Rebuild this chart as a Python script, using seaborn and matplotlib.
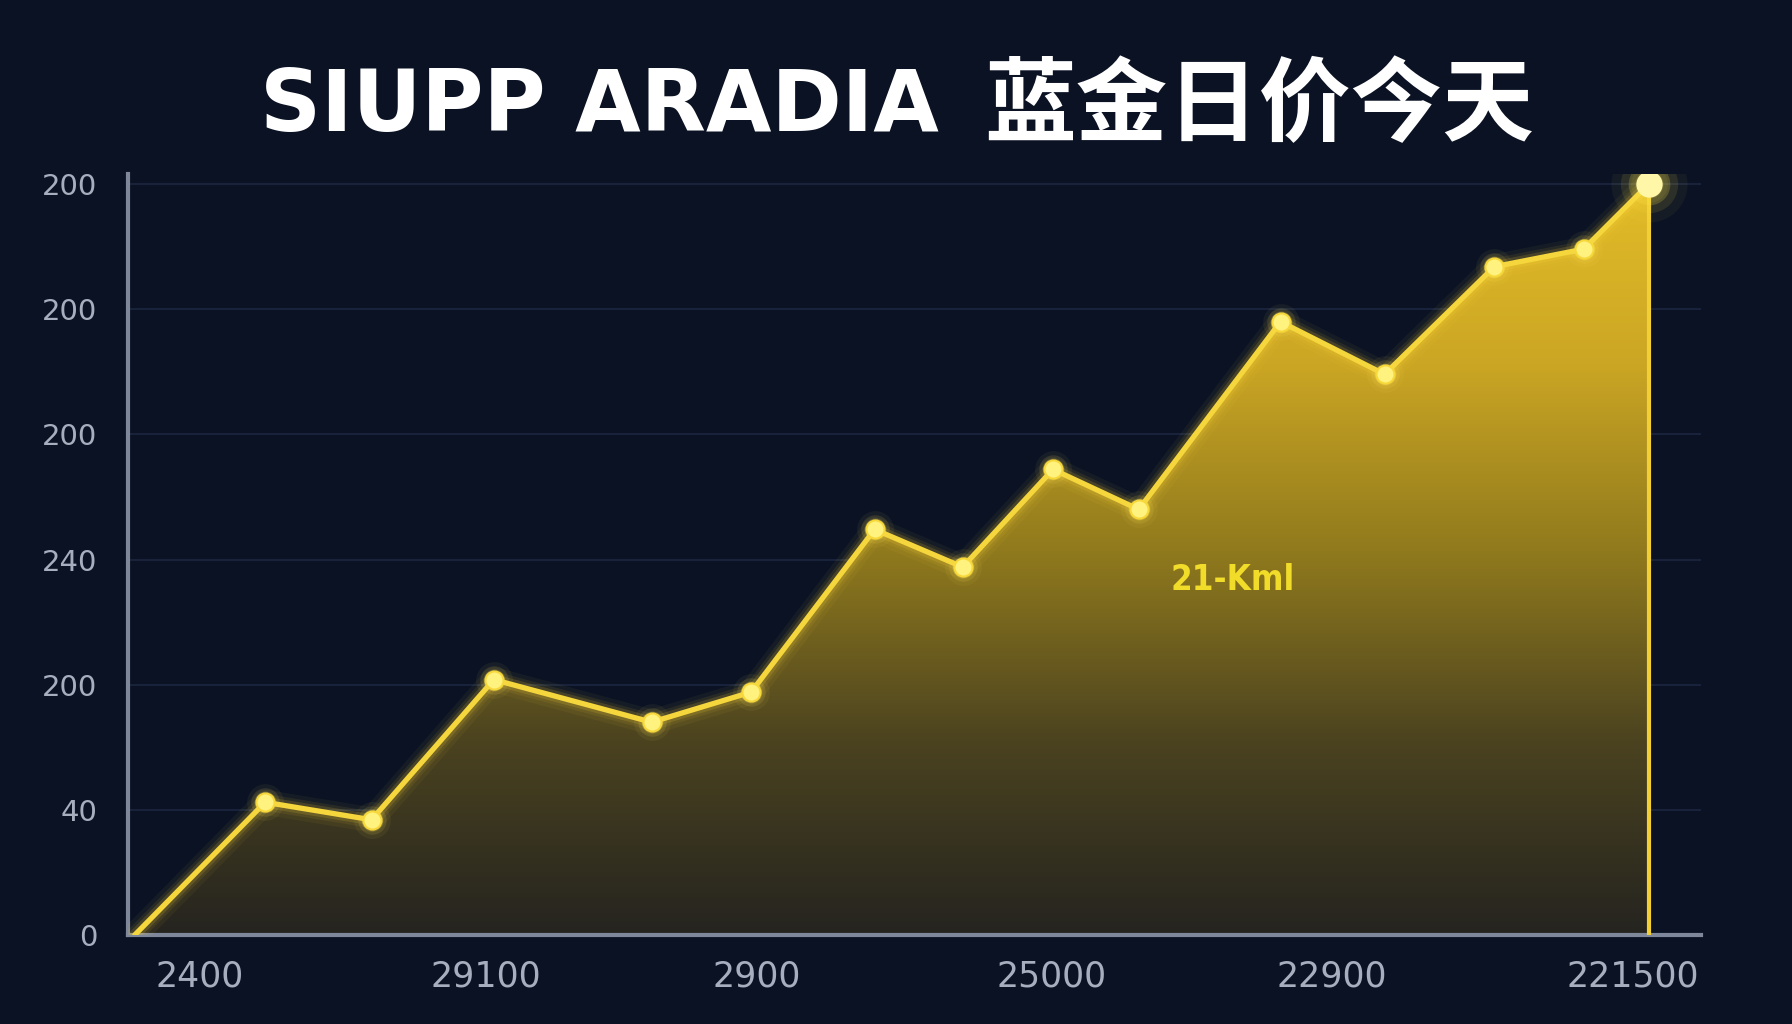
import matplotlib
matplotlib.use("Agg")
import matplotlib.pyplot as plt
import matplotlib.colors as mcolors
import seaborn as sns
import numpy as np
import pandas as pd

# data (x in axis units, y in price units)
x_pos = [6, 120, 213, 320, 458, 545, 653, 730, 809, 884, 1008, 1099, 1195, 1273, 1330]
price = [0, 53, 46, 102, 85, 97, 162, 147, 186, 170, 245, 224, 267, 274, 300]
xtick_pos = [63, 313, 550, 808, 1053, 1316]
xtick_labels = ["2400", "29100", "2900", "25000", "22900", "221500"]
ytick_pos = [0, 50, 100, 150, 200, 250, 300]
ytick_labels = ["0", "40", "200", "240", "200", "200", "200"]
title_latin = "SIUPP ARADIA"
title_cjk = "蓝金日价今天"
note = "21-Kml"

df = pd.DataFrame({"x": x_pos, "price": price})

bg = "#0a1224"
sns.set_theme(style="dark")
plt.rcParams["font.family"] = ["Noto Sans CJK SC", "DejaVu Sans"]

fig = plt.figure(figsize=(17.92, 10.24), dpi=100, facecolor=bg)
ax = fig.add_axes([0.0714, 0.087, 0.878, 0.743])
ax.set_facecolor(bg)

xmax = 1376
ymax = 304
ax.set_xlim(0, xmax)
ax.set_ylim(0, ymax)

# gradient area under the line
cmap = mcolors.LinearSegmentedColormap.from_list(
    "gold", ["#25241f", "#4a4220", "#8f791d", "#cba624", "#e4bd28"]
)
grad = np.linspace(0, 1, 256).reshape(-1, 1)
im = ax.imshow(grad, extent=[0, xmax, 0, ymax], origin="lower", aspect="auto",
               cmap=cmap, zorder=1)
poly = ax.fill_between(df["x"], df["price"], 0, color="none", lw=0)
clip = poly.get_paths()[0]
im.set_clip_path(clip, transform=ax.transData)

# grid lines
for y in ytick_pos[1:]:
    ax.axhline(y, color="#1b2740", lw=1.2, zorder=0.5)

# glowing line
for lw, a in [(18, 0.05), (12, 0.08), (8, 0.15)]:
    ax.plot(df["x"], df["price"], color="#ffd83a", lw=lw, alpha=a,
            solid_capstyle="round", zorder=3)
sns.lineplot(data=df, x="x", y="price", ax=ax, color="#f5d63c", lw=3.8,
             zorder=4, legend=False)
ax.vlines(df["x"].iloc[-1], 0, df["price"].iloc[-1], color="#f2cf35", lw=3, zorder=4)

# glowing markers
pts = df.iloc[1:]
for s, a in [(700, 0.06), (420, 0.12), (250, 0.22)]:
    ax.scatter(pts["x"], pts["price"], s=s, color="#ffe45a", alpha=a, lw=0, zorder=5)
sns.scatterplot(data=pts, x="x", y="price", ax=ax, s=170, color="#fff27e",
                edgecolor="#f7d83a", linewidth=1.5, zorder=6, legend=False)
last = df.iloc[[-1]]
for s, a in [(3000, 0.05), (1700, 0.1), (900, 0.2)]:
    ax.scatter(last["x"], last["price"], s=s, color="#ffe64a", alpha=a, lw=0, zorder=6)
ax.scatter(last["x"], last["price"], s=360, color="#fff6a8", lw=0, zorder=7)

# annotation
ax.text(966, 142, note, color="#f2dc2a", fontsize=25, fontweight="bold",
        ha="center", va="center", zorder=8, family=["DejaVu Sans"],
        fontstretch="condensed")

# axes styling
ax.set_xticks(xtick_pos)
ax.set_xticklabels(xtick_labels)
ax.set_yticks(ytick_pos)
ax.set_yticklabels(ytick_labels)
ax.tick_params(axis="both", length=0, colors="#a7afbf")
ax.tick_params(axis="y", pad=22, labelsize=21)
ax.tick_params(axis="x", pad=18, labelsize=25)
for lab in ax.get_xticklabels():
    lab.set_family(["DejaVu Sans"])
for lab in ax.get_yticklabels():
    lab.set_family(["DejaVu Sans"])
ax.set_xlabel("")
ax.set_ylabel("")
ax.grid(False)
for side in ["top", "right"]:
    ax.spines[side].set_visible(False)
for side in ["left", "bottom"]:
    ax.spines[side].set_visible(True)
    ax.spines[side].set_color("#7f889b")
    ax.spines[side].set_linewidth(3)

# title: latin part and CJK part
fig.text(0.524, 0.895, title_latin, color="white", fontsize=61, fontweight="bold",
         ha="right", va="center", family=["DejaVu Sans"])
fig.text(0.549, 0.895, title_cjk, color="white", fontsize=66, fontweight="bold",
         ha="left", va="center", family=["Noto Sans CJK SC"])

fig.savefig("out.png", dpi=100, facecolor=bg)
